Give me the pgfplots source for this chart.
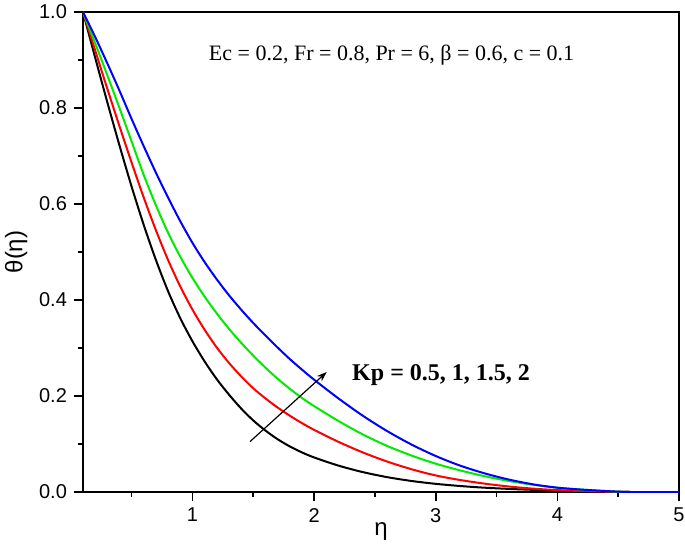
\documentclass[border=0pt]{standalone}
\usepackage{fontspec}
\setmainfont{Liberation Serif}
\newfontfamily\arial{Liberation Sans}
\usepackage{pgfplots}
\usepackage{pgfplotstable}
\pgfplotsset{compat=1.18}
\usetikzlibrary{arrows.meta}

\definecolor{cblack}{RGB}{0,0,0}
\definecolor{cred}{RGB}{255,0,0}
\definecolor{cgreen}{RGB}{0,235,0}
\definecolor{cblue}{RGB}{0,0,255}

% theta(eta) for Kp = 0.5, 1, 1.5, 2
\pgfplotstableread{
eta   kpa     kpb     kpc    kpd
0.1   1.000   1.000   1.000  1.000
0.2   0.905   0.920   0.935  0.948
0.3   0.812   0.840   0.868  0.893
0.4   0.722   0.762   0.800  0.836
0.5   0.636   0.686   0.730  0.777
0.6   0.556   0.613   0.660  0.720
0.7   0.483   0.545   0.597  0.665
0.8   0.418   0.483   0.540  0.613
0.9   0.362   0.428   0.490  0.564
1.0   0.314   0.380   0.446  0.519
1.1   0.272   0.338   0.407  0.479
1.2   0.235   0.301   0.372  0.443
1.3   0.203   0.269   0.340  0.410
1.4   0.174   0.241   0.311  0.380
1.5   0.149   0.216   0.284  0.352
1.6   0.128   0.195   0.259  0.326
1.7   0.110   0.176   0.236  0.301
1.8   0.095   0.159   0.215  0.277
1.9   0.0825  0.1435  0.196  0.255
2.0   0.072   0.1295  0.179  0.234
2.2   0.055   0.1045  0.148  0.195
2.4   0.0415  0.0825  0.120  0.159
2.6   0.031   0.0635  0.096  0.127
2.8   0.023   0.0475  0.076  0.099
3.0   0.017   0.0345  0.059  0.075
3.2   0.0125  0.025   0.045  0.055
3.4   0.009   0.0175  0.033  0.039
3.6   0.0065  0.0115  0.023  0.026
3.8   0.0045  0.007   0.015  0.016
4.0   0.003   0.004   0.009  0.009
4.2   0.0015  0.002   0.005  0.005
4.4   0.0005  0.001   0.002  0.002
4.6   0.000   0.000   0.000  0.000
5.0   0.000   0.000   0.000  0.000
}\thetatable

\begin{document}
\begin{tikzpicture}
\useasboundingbox (-41.5pt,-30pt) rectangle (301pt,246pt);
\begin{axis}[
  at={(0,0)}, anchor=south west,
  width=298pt, height=240pt, scale only axis,
  xmin=0.1, xmax=5, ymin=0, ymax=1,
  axis line style={line width=0.8pt},
  xtick={1,2,3,4,5}, minor xtick={0.5,1.5,2.5,3.5,4.5},
  ytick={0,0.2,0.4,0.6,0.8,1.0}, minor ytick={0.1,0.3,0.5,0.7,0.9},
  tick align=outside, tick pos=left,
  major tick length=4.5pt, minor tick length=2.5pt,
  every tick/.style={black, line width=0.8pt},
  /pgf/number format/assume math mode=true,
  ticklabel style={font=\arial\fontsize{10}{12}\selectfont},
  yticklabel style={/pgf/number format/.cd, fixed, fixed zerofill, precision=1},
  xlabel={\arial η}, ylabel={\arial θ(η)},
  label style={font=\fontsize{12}{14}\selectfont},
  xlabel style={at={(axis description cs:0.5,-0.083)}, anchor=center},
  ylabel style={at={(axis description cs:-0.112,0.5)}, anchor=center},
]
\addplot[cblack, line width=1pt, smooth] table[x=eta, y=kpa] {\thetatable};
\addplot[cred,   line width=1pt, smooth] table[x=eta, y=kpb] {\thetatable};
\addplot[cgreen, line width=1pt, smooth] table[x=eta, y=kpc] {\thetatable};
\addplot[cblue,  line width=1pt, smooth] table[x=eta, y=kpd] {\thetatable};

\draw[-{Stealth[length=5pt,width=3.5pt]}, line width=0.6pt] (axis cs:1.473,0.105) -- (axis cs:2.104,0.25);
\node[font=\fontsize{11}{13}\selectfont] at (axis cs:2.637,0.91) {Ec = 0.2, Fr = 0.8, Pr = 6, β = 0.6, c = 0.1};
\node[font=\bfseries\fontsize{12}{14}\selectfont] at (axis cs:3.044,0.243) {Kp = 0.5, 1, 1.5, 2};
\end{axis}
\end{tikzpicture}
\end{document}
